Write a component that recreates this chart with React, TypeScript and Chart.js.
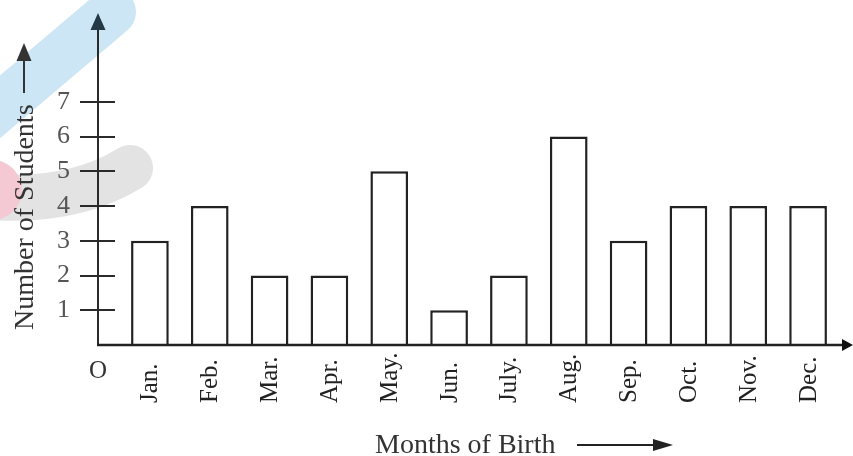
import React, { useEffect, useRef } from "react";
import { Chart, registerables } from "chart.js";

Chart.register(...registerables);

const months = ["Jan.", "Feb.", "Mar.", "Apr.", "May.", "Jun.", "July.", "Aug.", "Sep.", "Oct.", "Nov.", "Dec."];
const students = [3, 4, 2, 2, 5, 1, 2, 6, 3, 4, 4, 4];
const yTickValues = [1, 2, 3, 4, 5, 6, 7];
const xTitle = "Months of Birth";
const yTitle = "Number of Students";
const originLabel = "O";

const FONT = "'Liberation Serif', 'Times New Roman', serif";
const AXIS_OFFSET = 22;

const decorPlugin = {
  id: "decor",
  beforeDraw(chart: any) {
    const ctx = chart.ctx;
    ctx.save();
    ctx.lineCap = "round";
    ctx.strokeStyle = "#cde6f5";
    ctx.lineWidth = 48;
    ctx.beginPath();
    ctx.moveTo(-25, 128);
    ctx.lineTo(112, 12);
    ctx.stroke();
    ctx.strokeStyle = "#e3e3e3";
    ctx.lineWidth = 46;
    ctx.beginPath();
    ctx.moveTo(-20, 196);
    ctx.quadraticCurveTo(70, 205, 130, 168);
    ctx.stroke();
    ctx.fillStyle = "#f4c9d3";
    ctx.beginPath();
    ctx.arc(-8, 190, 30, 0, Math.PI * 2);
    ctx.fill();
    ctx.restore();
  },
};

const axesPlugin = {
  id: "customAxes",
  afterDatasetsDraw(chart: any) {
    const ctx = chart.ctx;
    const area = chart.chartArea;
    const xs = chart.scales.x;
    const ys = chart.scales.y;
    const ax = area.left - AXIS_OFFSET;
    const y0 = ys.getPixelForValue(0);
    ctx.save();
    ctx.strokeStyle = "#2a2a2a";
    ctx.fillStyle = "#243845";
    ctx.lineWidth = 2;
    ctx.beginPath();
    ctx.moveTo(ax, y0 + 1);
    ctx.lineTo(ax, 28);
    ctx.stroke();
    ctx.beginPath();
    ctx.moveTo(ax, 13);
    ctx.lineTo(ax - 7.5, 30);
    ctx.lineTo(ax + 7.5, 30);
    ctx.closePath();
    ctx.fill();
    ctx.strokeStyle = "#222";
    ctx.fillStyle = "#111";
    ctx.lineWidth = 2.5;
    ctx.beginPath();
    ctx.moveTo(ax - 1, y0);
    ctx.lineTo(845, y0);
    ctx.stroke();
    ctx.beginPath();
    ctx.moveTo(853, y0);
    ctx.lineTo(842, y0 - 6);
    ctx.lineTo(842, y0 + 6);
    ctx.closePath();
    ctx.fill();
    ctx.strokeStyle = "#2a2a2a";
    ctx.lineWidth = 2;
    yTickValues.forEach((v) => {
      const py = Math.round(ys.getPixelForValue(v));
      ctx.beginPath();
      ctx.moveTo(ax - 18, py);
      ctx.lineTo(ax + 17, py);
      ctx.stroke();
    });
    ctx.fillStyle = "#222";
    ctx.font = "25px " + FONT;
    months.forEach((m, i) => {
      const px = xs.getPixelForValue(i);
      ctx.save();
      ctx.translate(px, 403);
      ctx.rotate(-Math.PI / 2);
      ctx.textAlign = "left";
      ctx.textBaseline = "middle";
      ctx.fillText(m, 0, 1);
      ctx.restore();
    });
    ctx.fillStyle = "#333";
    ctx.textAlign = "center";
    ctx.textBaseline = "middle";
    ctx.fillText(originLabel, ax, 371);
    ctx.font = "28px " + FONT;
    ctx.fillStyle = "#333";
    ctx.textAlign = "left";
    ctx.textBaseline = "alphabetic";
    ctx.fillText(xTitle, 375, 453);
    ctx.strokeStyle = "#222";
    ctx.fillStyle = "#222";
    ctx.lineWidth = 2;
    ctx.beginPath();
    ctx.moveTo(577, 445);
    ctx.lineTo(655, 445);
    ctx.stroke();
    ctx.beginPath();
    ctx.moveTo(673, 445);
    ctx.lineTo(653, 439);
    ctx.lineTo(653, 451);
    ctx.closePath();
    ctx.fill();
    ctx.save();
    ctx.translate(33, 330);
    ctx.rotate(-Math.PI / 2);
    ctx.fillStyle = "#333";
    ctx.textAlign = "left";
    ctx.textBaseline = "alphabetic";
    ctx.fillText(yTitle, 0, 0);
    ctx.restore();
    ctx.strokeStyle = "#333";
    ctx.fillStyle = "#333";
    ctx.lineWidth = 2;
    ctx.beginPath();
    ctx.moveTo(24, 93);
    ctx.lineTo(24, 58);
    ctx.stroke();
    ctx.beginPath();
    ctx.moveTo(24, 43);
    ctx.lineTo(16.5, 61);
    ctx.lineTo(31.5, 61);
    ctx.closePath();
    ctx.fill();
    ctx.restore();
  },
};

export default function App() {
  const ref = useRef<HTMLCanvasElement | null>(null);
  useEffect(() => {
    if (!ref.current) return;
    const chart = new Chart(ref.current, {
      type: "bar",
      data: {
        labels: months,
        datasets: [
          {
            data: students,
            backgroundColor: "#ffffff",
            borderColor: "#222222",
            borderWidth: 2.5,
            barPercentage: 0.63,
            categoryPercentage: 1,
          },
        ],
      },
      options: {
        responsive: false,
        maintainAspectRatio: false,
        animation: false,
        layout: { padding: { top: 15, right: 15, bottom: 0, left: 0 } },
        plugins: {
          legend: { display: false },
          tooltip: { enabled: false },
          title: { display: false },
        },
        scales: {
          x: {
            type: "category",
            offset: true,
            grid: { display: false },
            border: { display: false },
            ticks: { display: false },
            afterFit: (s: any) => {
              s.height = 111;
              s.paddingLeft = 0;
              s.paddingRight = 0;
            },
          },
          y: {
            type: "linear",
            min: 0,
            max: 9.5,
            grid: { display: false },
            border: { display: false },
            afterFit: (s: any) => {
              s.width = 120;
              s.paddingTop = 0;
              s.paddingBottom = 0;
            },
            ticks: {
              stepSize: 1,
              autoSkip: false,
              padding: 42,
              color: "#555",
              font: { family: FONT, size: 26 },
              callback: (v: any) => (yTickValues.includes(Number(v)) ? String(v) : null),
            },
          },
        },
      },
      plugins: [decorPlugin, axesPlugin],
    } as any);
    return () => chart.destroy();
  }, []);
  return (
    <div style={{ position: "fixed", left: 0, top: 0, width: 853, height: 456, background: "#fff" }}>
      <canvas ref={ref} width={853} height={456} style={{ display: "block", width: 853, height: 456 }} />
    </div>
  );
}
